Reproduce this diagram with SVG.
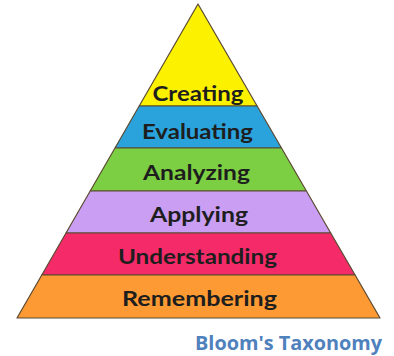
<svg xmlns="http://www.w3.org/2000/svg" width="394" height="356" viewBox="0 0 394 356">
<style>
.band{stroke:#5b4a32;stroke-width:1.2;stroke-linejoin:round}
.lbl{font-family:Lato,"DejaVu Sans",sans-serif;font-weight:bold;fill:#1e1e1e;text-anchor:middle}
.title{font-family:"Open Sans","Liberation Sans",sans-serif;font-weight:bold;fill:#4f81bd}
</style>
<rect width="394" height="356" fill="#fff"/>
<g id="creating">
<polygon class="band" fill="#fcf200" points="198,4 257.1,106 139.2,106"/>
<text class="lbl" x="198" y="101" font-size="21" textLength="91" lengthAdjust="spacingAndGlyphs">Creating</text>
</g>
<g id="evaluating">
<polygon class="band" fill="#2aa3dc" points="139.2,106 257.1,106 281.5,148 115,148"/>
<text class="lbl" x="197.5" y="139" font-size="20" textLength="111" lengthAdjust="spacingAndGlyphs">Evaluating</text>
</g>
<g id="analyzing">
<polygon class="band" fill="#7ccf42" points="115,148 281.5,148 306.4,191 90.2,191"/>
<text class="lbl" x="196.5" y="180" font-size="20" textLength="107" lengthAdjust="spacingAndGlyphs">Analyzing</text>
</g>
<g id="applying">
<polygon class="band" fill="#c99ef3" points="90.2,191 306.4,191 330.7,233 66,233"/>
<text class="lbl" x="199" y="221.5" font-size="20" textLength="98" lengthAdjust="spacingAndGlyphs">Applying</text>
</g>
<g id="understanding">
<polygon class="band" fill="#f52b69" points="66,233 330.7,233 355.1,275 41.8,275"/>
<text class="lbl" x="197.5" y="264" font-size="20" textLength="159" lengthAdjust="spacingAndGlyphs">Understanding</text>
</g>
<g id="remembering">
<polygon class="band" fill="#fd9a33" points="41.8,275 355.1,275 380,318 17,318"/>
<text class="lbl" x="199.5" y="306" font-size="20" textLength="155" lengthAdjust="spacingAndGlyphs">Remembering</text>
</g>
<g id="connectors"/>
<text class="title" x="195" y="349.5" font-size="20" textLength="187" lengthAdjust="spacingAndGlyphs">Bloom's Taxonomy</text>
</svg>
